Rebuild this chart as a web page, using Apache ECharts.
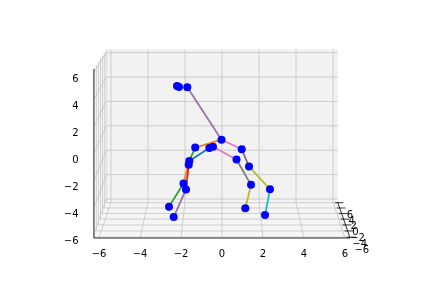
<!DOCTYPE html>
<html><head><meta charset="utf-8">
<script src="https://cdn.jsdelivr.net/npm/echarts@6/dist/echarts.min.js"></script>
<style>html,body{margin:0;padding:0;background:#fff}#c{width:432px;height:288px}</style>
</head><body><div id="c"></div>
<script>
// ---- tick values of the three axes ----
const xTicks = [-6, -4, -2, 0, 2, 4, 6];
const yTicks = [-6, -4, -2, 0, 2, 4, 6];
const zTicks = [-6, -4, -2, 0, 2, 4, 6];

// ---- joints: apparent x / z read on the front-face scale ----
const jointX = [-2.195, -2.098, -1.693, -0.024, -1.307, -0.620, -0.439, 0.961, 0.707, 1.317,
                -1.595, -1.624, -1.878, -1.756, 1.415, 2.341, -2.585, -2.356, 1.137, 2.098];
const jointZ = [4.99, 4.92, 4.90, 1.02, 0.44, 0.41, 0.50, 0.31, -0.44, -0.96,
                -0.55, -0.83, -2.22, -2.66, -2.32, -2.65, -3.93, -4.70, -4.05, -4.55];

// ---- bones (index pairs into the joint arrays) ----
const boneFrom = [2, 3, 4, 5, 3, 6, 7, 8, 9, 14, 15, 10, 11, 12, 13];
const boneTo   = [3, 4, 10, 10, 7, 8, 9, 14, 15, 18, 19, 12, 13, 16, 17];
const boneColors = ['#9a72a8', '#ff7f0e', '#2ca02c', '#1f77b4', '#e377c2', '#e377c2', '#8c6b63',
                    '#857a7a', '#bcbd22', '#bcbd22', '#17becf', '#ff7f0e', '#d62728', '#2ca02c', '#9a72a8'];

// ---- view model (perspective between front face and back face) ----
const LIM = 6.25;
const K = 20.5 / 18.5;   // back face is smaller by this factor
const C = 2.049;         // back face centre shifted up (front-face units)
function proj(x, d, z) {
  const t = (d + LIM) / (2 * LIM);
  const w = (1 - t) + t * K;
  return [x / w, (z + t * K * C) / w];
}
const FONT = 'DejaVu Sans';
const GRID = '#c4c4c4';
const fmt = v => String(v).replace('-', '\u2212');

function renderBox(params, api) {
  const L = LIM;
  const P = (x, d, z) => api.coord(proj(x, d, z));
  const poly = (pts, fill) => ({type: 'polygon', shape: {points: pts}, style: {fill: fill, stroke: fill, lineWidth: 1}});
  const line = (pts, stroke, w) => ({type: 'polyline', shape: {points: pts}, style: {stroke: stroke, lineWidth: w, fill: null}});
  const ch = [];
  ch.push(poly([P(-L, L, -L), P(L, L, -L), P(L, L, L), P(-L, L, L)], '#f2f2f2'));
  ch.push(poly([P(-L, -L, -L), P(-L, L, -L), P(-L, L, L), P(-L, -L, L)], '#f9f9f9'));
  ch.push(poly([P(-L, -L, -L), P(L, -L, -L), P(L, L, -L), P(-L, L, -L)], '#f5f5f5'));
  xTicks.forEach(x => ch.push(line([P(x, -L, -L), P(x, L, -L), P(x, L, L)], GRID, 0.8)));
  yTicks.forEach(d => ch.push(line([P(L, d, -L), P(-L, d, -L), P(-L, d, L)], GRID, 0.8)));
  zTicks.forEach(z => ch.push(line([P(-L, -L, z), P(-L, L, z), P(L, L, z)], GRID, 0.8)));
  ch.push(line([P(-L, -L, -L), P(L, -L, -L)], '#000', 0.8));
  ch.push(line([P(L, -L, -L), P(L, L, -L)], '#000', 0.8));
  ch.push(line([P(-L, -L, -L), P(-L, -L, L)], '#000', 0.8));
  yTicks.forEach(d => {
    ch.push(line([P(L - 0.15, d, -L), P(L + 0.3, d, -L)], '#000', 0.8));
    const p = P(L, d, -L);
    ch.push({type: 'text', x: p[0] + 12, y: p[1] + 13,
      style: {text: fmt(d), fontSize: 10, fontFamily: FONT, fill: '#000', align: 'center', verticalAlign: 'middle'}});
  });
  return {type: 'group', children: ch};
}

const boneSeries = boneFrom.map((a, i) => ({
  type: 'line', xAxisIndex: 0, yAxisIndex: 0, z: 3,
  data: [[jointX[a], jointZ[a]], [jointX[boneTo[i]], jointZ[boneTo[i]]]],
  showSymbol: false, silent: true,
  lineStyle: {color: boneColors[i], width: 1.8},
  itemStyle: {color: boneColors[i]}
}));

const chart = echarts.init(document.getElementById('c'), null, {renderer: 'canvas'});
chart.setOption({
  animation: false,
  backgroundColor: '#ffffff',
  grid: [
    {left: 93.875, right: 81.875, top: 69, bottom: 50},
    {left: 99, right: 87, top: 69, bottom: 50},
    {left: 94, right: 81.875, top: 79.4, bottom: 46.4}
  ],
  xAxis: [
    {gridIndex: 0, type: 'value', min: -LIM, max: LIM, show: false},
    {gridIndex: 1, type: 'value', min: -6, max: 6, interval: 2,
      axisLine: {show: false}, axisTick: {show: false}, splitLine: {show: false},
      axisLabel: {margin: 11, fontSize: 10, fontFamily: FONT, color: '#000', formatter: fmt, showMinLabel: true, showMaxLabel: true}},
    {gridIndex: 2, type: 'value', min: -6, max: 6, show: false}
  ],
  yAxis: [
    {gridIndex: 0, type: 'value', min: -LIM, max: LIM, show: false},
    {gridIndex: 1, type: 'value', min: -6, max: 6, show: false},
    {gridIndex: 2, type: 'value', min: -6, max: 6, interval: 2,
      axisLine: {show: false}, axisTick: {show: false}, splitLine: {show: false},
      axisLabel: {margin: 15.5, fontSize: 10, fontFamily: FONT, color: '#000', formatter: fmt, showMinLabel: true, showMaxLabel: true}}
  ],
  series: [
    {type: 'custom', xAxisIndex: 0, yAxisIndex: 0, z: 1, silent: true, clip: false,
      data: [[0, 0]], renderItem: renderBox},
    ...boneSeries,
    {type: 'scatter', xAxisIndex: 0, yAxisIndex: 0, z: 4, silent: true,
      data: jointX.map((x, i) => [x, jointZ[i]]),
      symbolSize: 8, itemStyle: {color: '#0000ff', opacity: 1}}
  ]
});
</script></body></html>
